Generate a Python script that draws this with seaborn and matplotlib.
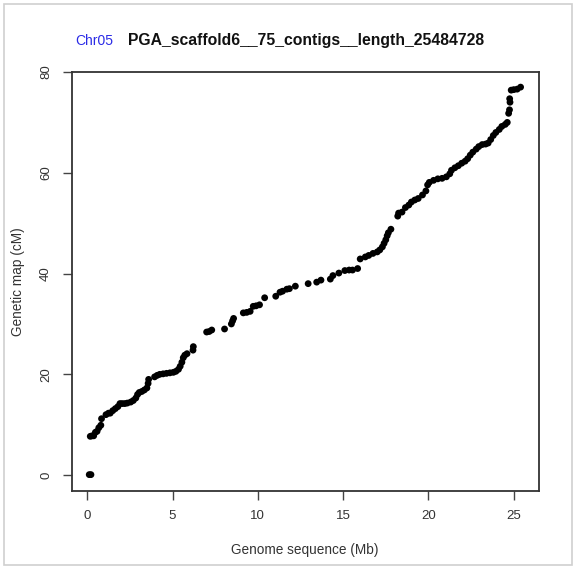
import matplotlib
matplotlib.use("Agg")
import matplotlib.pyplot as plt
import seaborn as sns
import pandas as pd
from matplotlib.patches import Rectangle

# Data (physical position in Mb, genetic position in cM)
genome_mb = [
    0.12, 0.22, 0.18, 0.28, 0.38, 0.48, 0.58, 0.68, 0.80, 0.84,
    1.10, 1.25, 1.35, 1.50, 1.65, 1.80, 1.92, 2.05, 2.20, 2.35,
    2.55, 2.70, 2.85, 2.95, 3.05, 3.20, 3.35, 3.50, 3.57, 3.60,
    3.95, 4.10, 4.25, 4.45, 4.65, 4.85, 5.05, 5.20, 5.35, 5.45,
    5.55, 5.63, 5.72, 5.85, 6.20, 6.22, 7.00, 7.15, 7.30, 8.05,
    8.45, 8.52, 8.58, 9.15, 9.35, 9.55, 9.73, 9.90, 10.10, 10.40,
    11.05, 11.30, 11.45, 11.70, 11.85, 12.20, 12.95, 13.45, 13.70, 14.25,
    14.40, 14.75, 15.10, 15.35, 15.55, 15.85, 16.00, 16.30, 16.50, 16.75,
    17.00, 17.15, 17.30, 17.40, 17.50, 17.58, 17.65, 17.80, 18.20, 18.25,
    18.45, 18.65, 18.85, 19.00, 19.20, 19.40, 19.65, 19.85, 19.95, 20.05,
    20.30, 20.55, 20.80, 21.05, 21.25, 21.35, 21.55, 21.75, 21.95, 22.15,
    22.30, 22.45, 22.60, 22.80, 22.95, 23.15, 23.35, 23.50, 23.65, 23.80,
    23.95, 24.15, 24.30, 24.50, 24.62, 24.70, 24.75, 24.78, 24.76, 24.85,
    25.00, 25.20, 25.40,
]
genetic_cm = [
    0.1, 0.1, 7.7, 7.8, 7.8, 8.5, 8.7, 9.4, 9.9, 11.2,
    12.0, 12.3, 12.3, 12.8, 13.2, 13.6, 14.2, 14.2, 14.2, 14.3,
    14.5, 14.8, 15.3, 16.0, 16.4, 16.6, 16.9, 17.3, 18.2, 19.0,
    19.5, 19.8, 20.0, 20.1, 20.2, 20.3, 20.4, 20.6, 21.0, 21.6,
    22.4, 23.3, 23.8, 24.1, 24.8, 25.5, 28.4, 28.5, 28.8, 29.0,
    30.0, 30.6, 31.1, 32.2, 32.3, 32.5, 33.5, 33.6, 33.8, 35.2,
    35.5, 36.3, 36.5, 36.9, 37.0, 37.5, 38.0, 38.3, 38.7, 38.9,
    39.6, 40.1, 40.6, 40.7, 40.7, 41.0, 42.9, 43.3, 43.6, 44.0,
    44.3, 44.7, 45.3, 46.0, 46.7, 47.5, 48.1, 48.8, 51.4, 52.0,
    52.2, 53.1, 53.6, 54.2, 54.6, 54.9, 55.6, 56.4, 57.6, 58.1,
    58.5, 58.8, 58.9, 59.2, 59.8, 60.5, 61.0, 61.4, 61.9, 62.3,
    62.8, 63.5, 64.1, 64.7, 65.2, 65.6, 65.7, 65.9, 66.6, 67.4,
    68.0, 68.6, 69.2, 69.6, 70.0, 71.8, 72.5, 74.0, 74.7, 76.4,
    76.5, 76.6, 77.0,
]
x_ticks = [0, 5, 10, 15, 20, 25]
y_ticks = [0, 20, 40, 60, 80]
chrom_label = "Chr05"
scaffold_label = "PGA_scaffold6__75_contigs__length_25484728"
x_label = "Genome sequence (Mb)"
y_label = "Genetic map (cM)"

sns.set_style("ticks")
plt.rcParams["font.family"] = ["Liberation Sans", "DejaVu Sans"]

W, H = 576, 569
fig = plt.figure(figsize=(W / 100, H / 100), dpi=100)
fig.patch.set_facecolor("white")
fig.patches.append(Rectangle((4 / W, 1 - 565 / H), 568 / W, 561 / H,
                             transform=fig.transFigure, fill=False,
                             edgecolor="#cfcfcf", linewidth=1.2))

ax = fig.add_axes([71.5 / W, 1 - 490.5 / H, (538.5 - 71.5) / W, (490.5 - 71.5) / H])
df = pd.DataFrame({"mb": genome_mb, "cm": genetic_cm})
sns.scatterplot(data=df, x="mb", y="cm", ax=ax, color="black", s=24,
                edgecolor="none", linewidth=0)

ax.set_xlim(-0.92, 26.45)
ax.set_ylim(-3.05, 80.1)
ax.set_xticks(x_ticks)
ax.set_yticks(y_ticks)
ax.set_xticklabels([str(t) for t in x_ticks], fontsize=9.5, color="#333333")
ax.set_yticklabels([str(t) for t in y_ticks], fontsize=9.5, color="#333333",
                   rotation=90, va="center")
ax.tick_params(axis="both", length=6.5, width=1, color="#444444", pad=7.5, direction="out")
for sp in ax.spines.values():
    sp.set_visible(True)
    sp.set_color("#333333")
    sp.set_linewidth(1.3)
ax.set_xlabel("")
ax.set_ylabel("")
ax.grid(False)

fig.text(305 / W, 1 - 550 / H, x_label, ha="center", va="center", fontsize=9.8, color="#333333")
fig.text(18 / W, 1 - 282 / H, y_label, ha="center", va="center", rotation=90,
         fontsize=9.8, color="#333333")
fig.text(75 / W, 1 - 45 / H, chrom_label, ha="left", va="baseline", fontsize=10,
         color="#2a2ae6")
fig.text(128 / W, 1 - 45 / H, scaffold_label, ha="left", va="baseline", fontsize=11.3,
         fontweight="bold", color="#111111")

fig.savefig("out.png", dpi=100)
